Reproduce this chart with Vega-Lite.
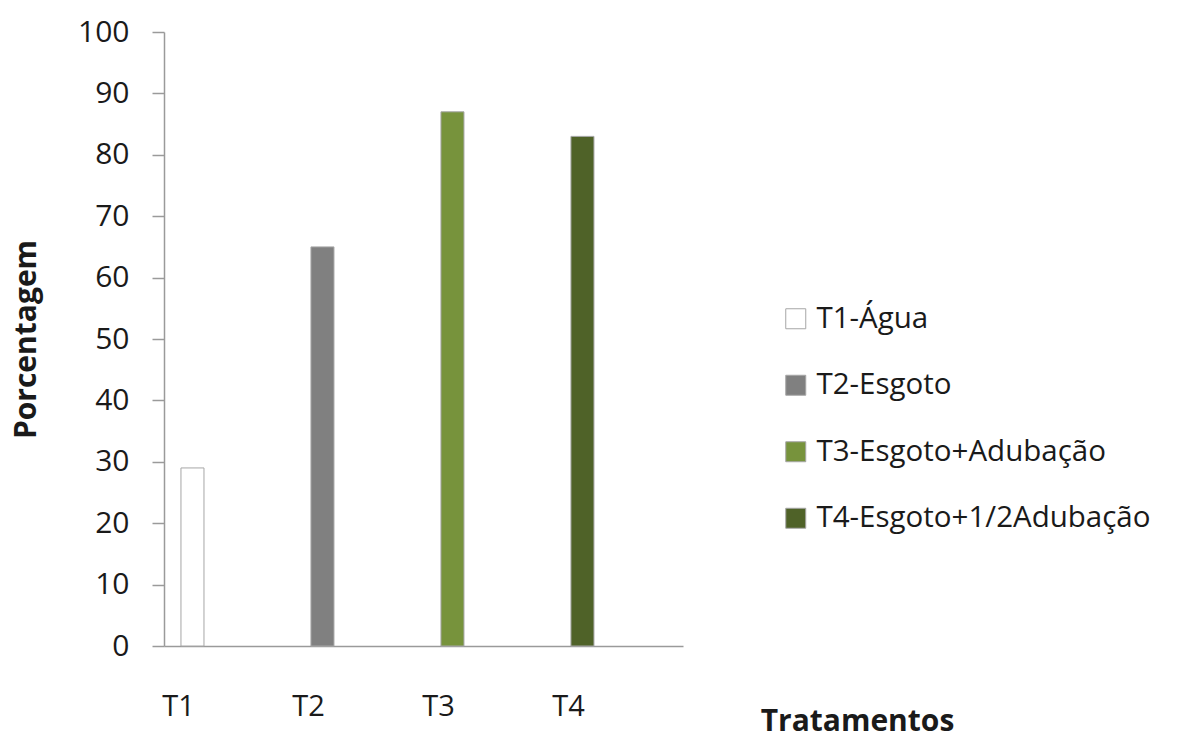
{
  "$schema": "https://vega.github.io/schema/vega-lite/v6.json",
  "width": 519,
  "height": 614,
  "autosize": {"type": "none"},
  "padding": {"left": 164, "top": 32, "right": 499, "bottom": 94},
  "background": "white",
  "config": {
    "view": {"stroke": null},
    "font": "Open Sans",
    "axis": {"labelFont": "Open Sans", "titleFont": "Open Sans", "labelColor": "#1a1a1a", "titleColor": "#1a1a1a", "grid": false, "domainColor": "#9a9a9a", "tickColor": "#9a9a9a"},
    "legend": {"labelFont": "Open Sans"}
  },
  "data": {
    "values": [
      {"trat": "T1", "serie": "T1-Água", "pct": 29},
      {"trat": "T2", "serie": "T2-Esgoto", "pct": 65},
      {"trat": "T3", "serie": "T3-Esgoto+Adubação", "pct": 87},
      {"trat": "T4", "serie": "T4-Esgoto+1/2Adubação", "pct": 83}
    ]
  },
  "mark": {"type": "bar", "stroke": "#a6a6a6", "strokeWidth": 1},
  "encoding": {
    "x": {
      "field": "trat",
      "type": "nominal",
      "sort": ["T1", "T2", "T3", "T4"],
      "scale": {"paddingInner": 0.823, "paddingOuter": 0.4077, "align": 0.16},
      "axis": {
        "title": "Tratamentos",
        "titleFontSize": 30,
        "titleFontWeight": "bold",
        "titleX": 693,
        "titleY": 84,
        "titleAlign": "center",
        "titleBaseline": "alphabetic",
        "labelAngle": 0,
        "labelFontSize": 29,
        "labelOffset": -14,
        "labelPadding": 46,
        "ticks": false,
        "domainWidth": 1.5
      }
    },
    "y": {
      "field": "pct",
      "type": "quantitative",
      "scale": {"domain": [0, 100], "nice": false},
      "axis": {
        "title": "Porcentagem",
        "titleFontSize": 30,
        "titleFontWeight": "bold",
        "titlePadding": 36,
        "values": [0, 10, 20, 30, 40, 50, 60, 70, 80, 90, 100],
        "labelFontSize": 30,
        "labelPadding": 23,
        "tickSize": 12,
        "tickWidth": 1.5,
        "domainWidth": 1.5
      }
    },
    "color": {
      "field": "serie",
      "type": "nominal",
      "sort": ["T1-Água", "T2-Esgoto", "T3-Esgoto+Adubação", "T4-Esgoto+1/2Adubação"],
      "scale": {
        "domain": ["T1-Água", "T2-Esgoto", "T3-Esgoto+Adubação", "T4-Esgoto+1/2Adubação"],
        "range": ["#ffffff", "#808080", "#77933c", "#4f6228"]
      },
      "legend": {
        "title": null,
        "orient": "none",
        "legendX": 617,
        "legendY": 272,
        "symbolType": "square",
        "symbolSize": 400,
        "symbolStrokeColor": "#a6a6a6",
        "symbolStrokeWidth": 1,
        "labelFontSize": 29.5,
        "labelColor": "#1a1a1a",
        "labelOffset": 6,
        "rowPadding": 35.5,
        "labelLimit": 500
      }
    }
  }
}
